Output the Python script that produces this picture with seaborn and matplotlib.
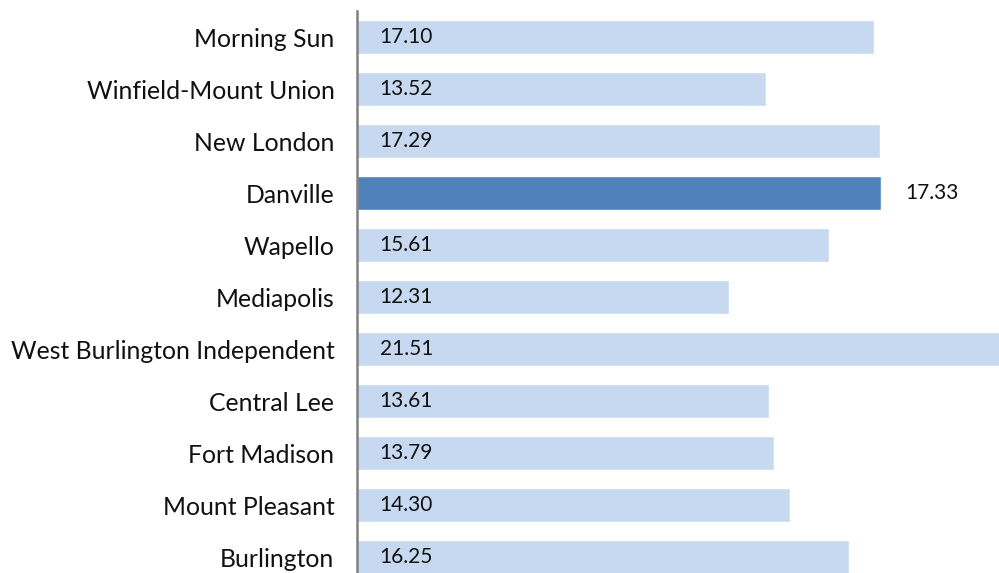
import matplotlib
matplotlib.use("Agg")
import matplotlib.pyplot as plt
import seaborn as sns
import pandas as pd

districts = ["Morning Sun", "Winfield-Mount Union", "New London", "Danville", "Wapello",
             "Mediapolis", "West Burlington Independent", "Central Lee", "Fort Madison",
             "Mount Pleasant", "Burlington"]
values = [17.10, 13.52, 17.29, 17.33, 15.61, 12.31, 21.51, 13.61, 13.79, 14.30, 16.25]
highlight = "Danville"

df = pd.DataFrame({"district": districts, "value": values})

sns.set_style("white")
plt.rcParams["font.family"] = ["Lato", "DejaVu Sans"]

fig = plt.figure(figsize=(9.99, 5.73), dpi=100)
ax = fig.add_axes([0.357, -0.0175, 0.643, 0.9983])

palette = {d: ("#4F81BD" if d == highlight else "#C6D9F1") for d in districts}
sns.barplot(data=df, x="value", y="district", hue="district", palette=palette,
            order=districts, width=0.65, legend=False, ax=ax, saturation=1)

ax.set_xlim(0, 21.22)
ax.set_ylim(len(districts) - 0.5, -0.5)

for i, (d, v) in enumerate(zip(districts, values)):
    if d == highlight:
        ax.text(v + 0.8, i, f"{v:.2f}", va="center", ha="left", fontsize=15, color="#111111")
    else:
        ax.text(0.76, i, f"{v:.2f}", va="center", ha="left", fontsize=15, color="#111111")

ax.set_xlabel("")
ax.set_ylabel("")
ax.set_xticks([])
ax.tick_params(axis="y", length=0, pad=16, labelsize=17.8, labelcolor="#111111")
for s in ["top", "right", "bottom"]:
    ax.spines[s].set_visible(False)
ax.spines["left"].set_color("#808080")
ax.spines["left"].set_linewidth(1.8)

fig.savefig("out.png", dpi=100)
